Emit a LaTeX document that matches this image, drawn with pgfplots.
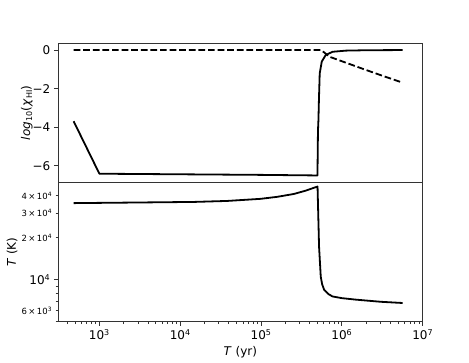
\documentclass[border=0pt]{standalone}
\usepackage{fontspec}
\setmainfont{DejaVu Sans}
\usepackage{pgfplots}
\pgfplotsset{compat=1.18}
\begin{document}
\begin{tikzpicture}
\path[use as bounding box] (-58pt,-40.3pt) rectangle (411pt,321.7pt);
% upper panel: neutral fraction
\begin{axis}[
    scale only axis, width=364.7pt, height=139.3pt,
    xmode=log, xmin=307.6, xmax=1e7,
    axis line style={black!80, line width=0.9pt},
    tick align=outside, major tick length=4.2pt, minor tick length=2.4pt,
    tick style={black!80, line width=0.9pt},
    ytick pos=left,
    tick label style={font=\fontsize{12}{14}\selectfont},
    label style={font=\fontsize{12}{14}\selectfont},
    ylabel shift=-7pt,
    at={(0,139.3pt)},
    ymin=-6.86, ymax=0.36,
    xtick=\empty,
    ytick={-6,-4,-2,0}, yticklabels={−6,−4,−2,0},
    ylabel={\textit{log}\textsubscript{10}(\textit{χ}\textsubscript{HI})},
]
\addplot[black, line width=1.8pt, line join=round] coordinates {
  (480,-3.69) (1000,-6.41) (1e4,-6.44) (1e5,-6.47) (4.99e5,-6.50)
  (5.02e5,-5.5) (5.06e5,-4.2) (5.13e5,-3.62) (5.2e5,-2.6) (5.32e5,-1.21)
  (5.64e5,-0.6) (6.31e5,-0.26) (7.66e5,-0.09) (1.12e6,-0.03) (2e6,-0.01)
  (5.65e6,0.0)
};
\addplot[black, line width=1.8pt, dash pattern=on 6.7pt off 2.9pt] coordinates {
  (480,0) (5.48e5,0) (6.03e5,-0.12) (6.95e5,-0.34) (1e6,-0.58)
  (1.89e6,-1.0) (3.16e6,-1.33) (5.65e6,-1.69)
};
\end{axis}
% lower panel: temperature
\begin{axis}[
    scale only axis, width=364.7pt, height=139.3pt,
    xmode=log, xmin=307.6, xmax=1e7,
    ymode=log, ymin=5000, ymax=50000,
    axis line style={black!80, line width=0.9pt},
    tick align=outside, major tick length=4.2pt, minor tick length=2.4pt,
    tick style={black!80, line width=0.9pt},
    xtick pos=bottom, ytick pos=left,
    tick label style={font=\fontsize{12}{14}\selectfont},
    label style={font=\fontsize{12}{14}\selectfont},
    ylabel shift=-7pt,
    at={(0,0)},
    ytick={1e4}, yticklabels={10\textsuperscript{4}},
    minor ytick={5000,7000,8000,9000},
    extra y ticks={6000,20000,30000,40000},
    extra y tick labels={6\,×\,10\textsuperscript{3},2\,×\,10\textsuperscript{4},3\,×\,10\textsuperscript{4},4\,×\,10\textsuperscript{4}},
    extra y tick style={major tick length=2.4pt, tick label style={font=\fontsize{8.5}{10}\selectfont}},
    xtick={1e3,1e4,1e5,1e6,1e7},
    xticklabels={10\textsuperscript{3},10\textsuperscript{4},10\textsuperscript{5},10\textsuperscript{6},10\textsuperscript{7}},
    minor xtick={400,500,600,700,800,900,2e3,3e3,4e3,5e3,6e3,7e3,8e3,9e3,
      2e4,3e4,4e4,5e4,6e4,7e4,8e4,9e4,2e5,3e5,4e5,5e5,6e5,7e5,8e5,9e5,
      2e6,3e6,4e6,5e6,6e6,7e6,8e6,9e6},
    xlabel={\textit{T} (yr)},
    ylabel={\textit{T} (K)},
]
\addplot[black, line width=1.8pt, line join=round] coordinates {
  (480,35500) (2.19e3,35800) (1.47e4,36200) (3.81e4,36800) (9.86e4,38100)
  (1.59e5,39400) (2.55e5,41300) (3.56e5,43600) (5.0e5,46700)
  (5.22e5,17300) (5.48e5,10500) (5.7e5,9300) (6.03e5,8470) (6.8e5,7900) (7.66e5,7590)
  (1.0e6,7380) (1.49e6,7200) (3.02e6,6950) (5.65e6,6810)
};
\end{axis}
\end{tikzpicture}
\end{document}
